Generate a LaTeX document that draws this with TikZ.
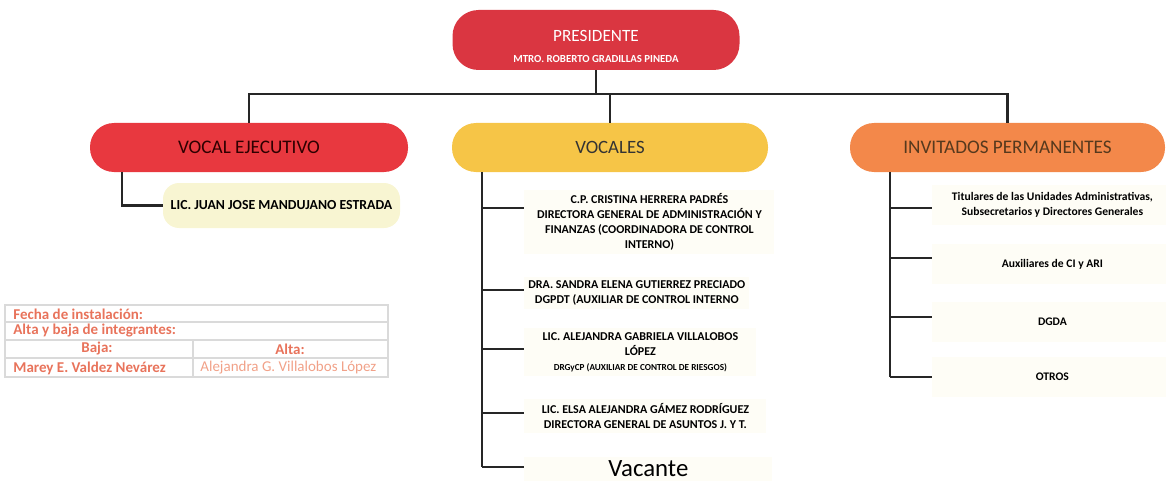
\documentclass[tikz,border=0pt]{standalone}
\usepackage{fontspec}
\setmainfont{Carlito}
\usetikzlibrary{positioning}
\definecolor{presred}{HTML}{DA3641}
\definecolor{vocred}{HTML}{E8383F}
\definecolor{vocyel}{HTML}{F6C547}
\definecolor{invorg}{HTML}{F3884A}
\definecolor{cream}{HTML}{F8F5D2}
\definecolor{faint}{HTML}{FEFDF6}
\definecolor{tabtxt}{HTML}{E8735B}
\definecolor{tabtxtl}{HTML}{F1A188}
\definecolor{tabline}{HTML}{DADADA}
\begin{document}
\begin{tikzpicture}[x=0.5pt,y=-0.5pt,
    pill/.style={rounded corners=12pt, minimum height=24.5pt, inner sep=0pt},
    conn/.style={line width=1.4pt, draw=black!85},
    pertxt/.style={fill=faint, anchor=west, align=center, inner sep=2pt, font=\fontsize{6}{7.5}\selectfont\bfseries},
    invtxt/.style={fill=faint, anchor=west, align=center, inner sep=1pt, minimum width=120pt, minimum height=20pt, font=\fontsize{5.8}{7.2}\selectfont\bfseries},
    tab/.style={anchor=west, inner sep=0pt, text=tabtxt, font=\fontsize{7.5}{8}\selectfont\bfseries}]
    \useasboundingbox (0,0) rectangle (1166,481);
    % cabeza
    \node[pill, fill=presred, rounded corners=13pt, minimum width=143.5pt, minimum height=30pt, text=white, align=center, font=\fontsize{8.6}{10.5}\selectfont] (pres) at (596,40)
        {\rule{0pt}{12pt}PRESIDENTE\\{\fontsize{5.4}{6}\selectfont\bfseries MTRO. ROBERTO GRADILLAS PINEDA}};
    \node[pill, fill=vocred, minimum width=159pt, text=black!60!red!45!black, font=\fontsize{9.6}{10}\selectfont] (ejec) at (249,147.5) {VOCAL EJECUTIVO};
    \node[pill, fill=vocyel, minimum width=158pt, text=black!80, font=\fontsize{9.4}{10}\selectfont] (vocs) at (610,147.5) {VOCALES};
    \node[pill, fill=invorg, minimum width=157.5pt, text=black!55!brown, font=\fontsize{9.6}{10}\selectfont] (inv) at (1007.5,147.5) {INVITADOS PERMANENTES};
    \coordinate (bus) at (600,94);
    \draw[conn] (pres.south) -- (pres.south |- bus);
    \draw[conn] (ejec.north) |- (bus) -| (inv.north);
    \draw[conn] (vocs.north) -- (vocs.north |- bus);
    % vocal ejecutivo
    \node[fill=cream, rounded corners=8pt, minimum width=118.5pt, minimum height=22.5pt, font=\fontsize{6.9}{7}\selectfont\bfseries] (juan) at (281.5,205.5) {LIC. JUAN JOSE MANDUJANO ESTRADA};
    \coordinate (e1) at (122,205.5);
    \draw[conn] (ejec.south -| e1) |- (juan.west);
    % vocales
    \node[pertxt, minimum width=125pt] (c1) at (524,222) {C.P. CRISTINA HERRERA PADRÉS\\DIRECTORA GENERAL DE ADMINISTRACIÓN Y\\FINANZAS (COORDINADORA DE CONTROL\\INTERNO)};
    \node[pertxt, minimum width=107pt] (c2) at (524,293) {DRA. SANDRA ELENA GUTIERREZ PRECIADO\\DGPDT (AUXILIAR DE CONTROL INTERNO};
    \node[pertxt, minimum width=116pt] (c3) at (524,352) {LIC. ALEJANDRA GABRIELA VILLALOBOS\\LÓPEZ\\{\fontsize{4.6}{5}\selectfont DRGyCP (AUXILIAR DE CONTROL DE RIESGOS)}};
    \node[pertxt, minimum width=121pt] (c4) at (524,416) {LIC. ELSA ALEJANDRA GÁMEZ RODRÍGUEZ\\DIRECTORA GENERAL DE ASUNTOS J. Y T.};
    \node[pertxt, minimum width=124pt, font=\fontsize{12.4}{13}\selectfont] (c5) at (524,469) {Vacante};
    \coordinate (b1) at (482,208);
    \coordinate (b2) at (482,290);
    \coordinate (b3) at (482,349);
    \coordinate (b4) at (482,413);
    \coordinate (b5) at (482,467);
    \draw[conn] (vocs.south -| b1) -- (b5);
    \foreach \i in {1,...,5}
        \draw[conn] (b\i) -- (b\i -| c\i.west);
    % invitados
    \node[invtxt] (i1) at (932,205) {Titulares de las Unidades Administrativas,\\Subsecretarios y Directores Generales};
    \node[invtxt] (i2) at (932,264) {Auxiliares de CI y ARI};
    \node[invtxt] (i3) at (932,322) {DGDA};
    \node[invtxt] (i4) at (932,377) {OTROS};
    \coordinate (d1) at (890,208);
    \coordinate (d2) at (890,258);
    \coordinate (d3) at (890,317);
    \coordinate (d4) at (890,377);
    \draw[conn] (inv.south -| d1) -- (d4);
    \foreach \i in {1,...,4}
        \draw[conn] (d\i) -- (d\i -| i\i.west);
    % tabla
    \draw[tabline, line width=0.6pt] (5,305) rectangle (388,377);
    \draw[tabline, line width=0.6pt] (5,322) -- (388,322);
    \draw[tabline, line width=0.6pt] (5,340) -- (388,340);
    \draw[tabline, line width=0.6pt] (5,358) -- (388,358);
    \draw[tabline, line width=0.6pt] (193,340) -- (193,377);
    \node[tab] (fecha) at (13,314) {Fecha de instalación:};
    \node[tab] (altabaja) at (13,331) {Alta y baja de integrantes:};
    \node[tab, anchor=center] (baja) at (97,349) {Baja:};
    \node[tab, anchor=center] (alta) at (290,349) {Alta:};
    \node[tab] (marey) at (13,368) {Marey E. Valdez Nevárez};
    \node[tab, text=tabtxtl, font=\fontsize{7.5}{8}\selectfont] (alejandra) at (200,368) {Alejandra G. Villalobos López};
\end{tikzpicture}
\end{document}
